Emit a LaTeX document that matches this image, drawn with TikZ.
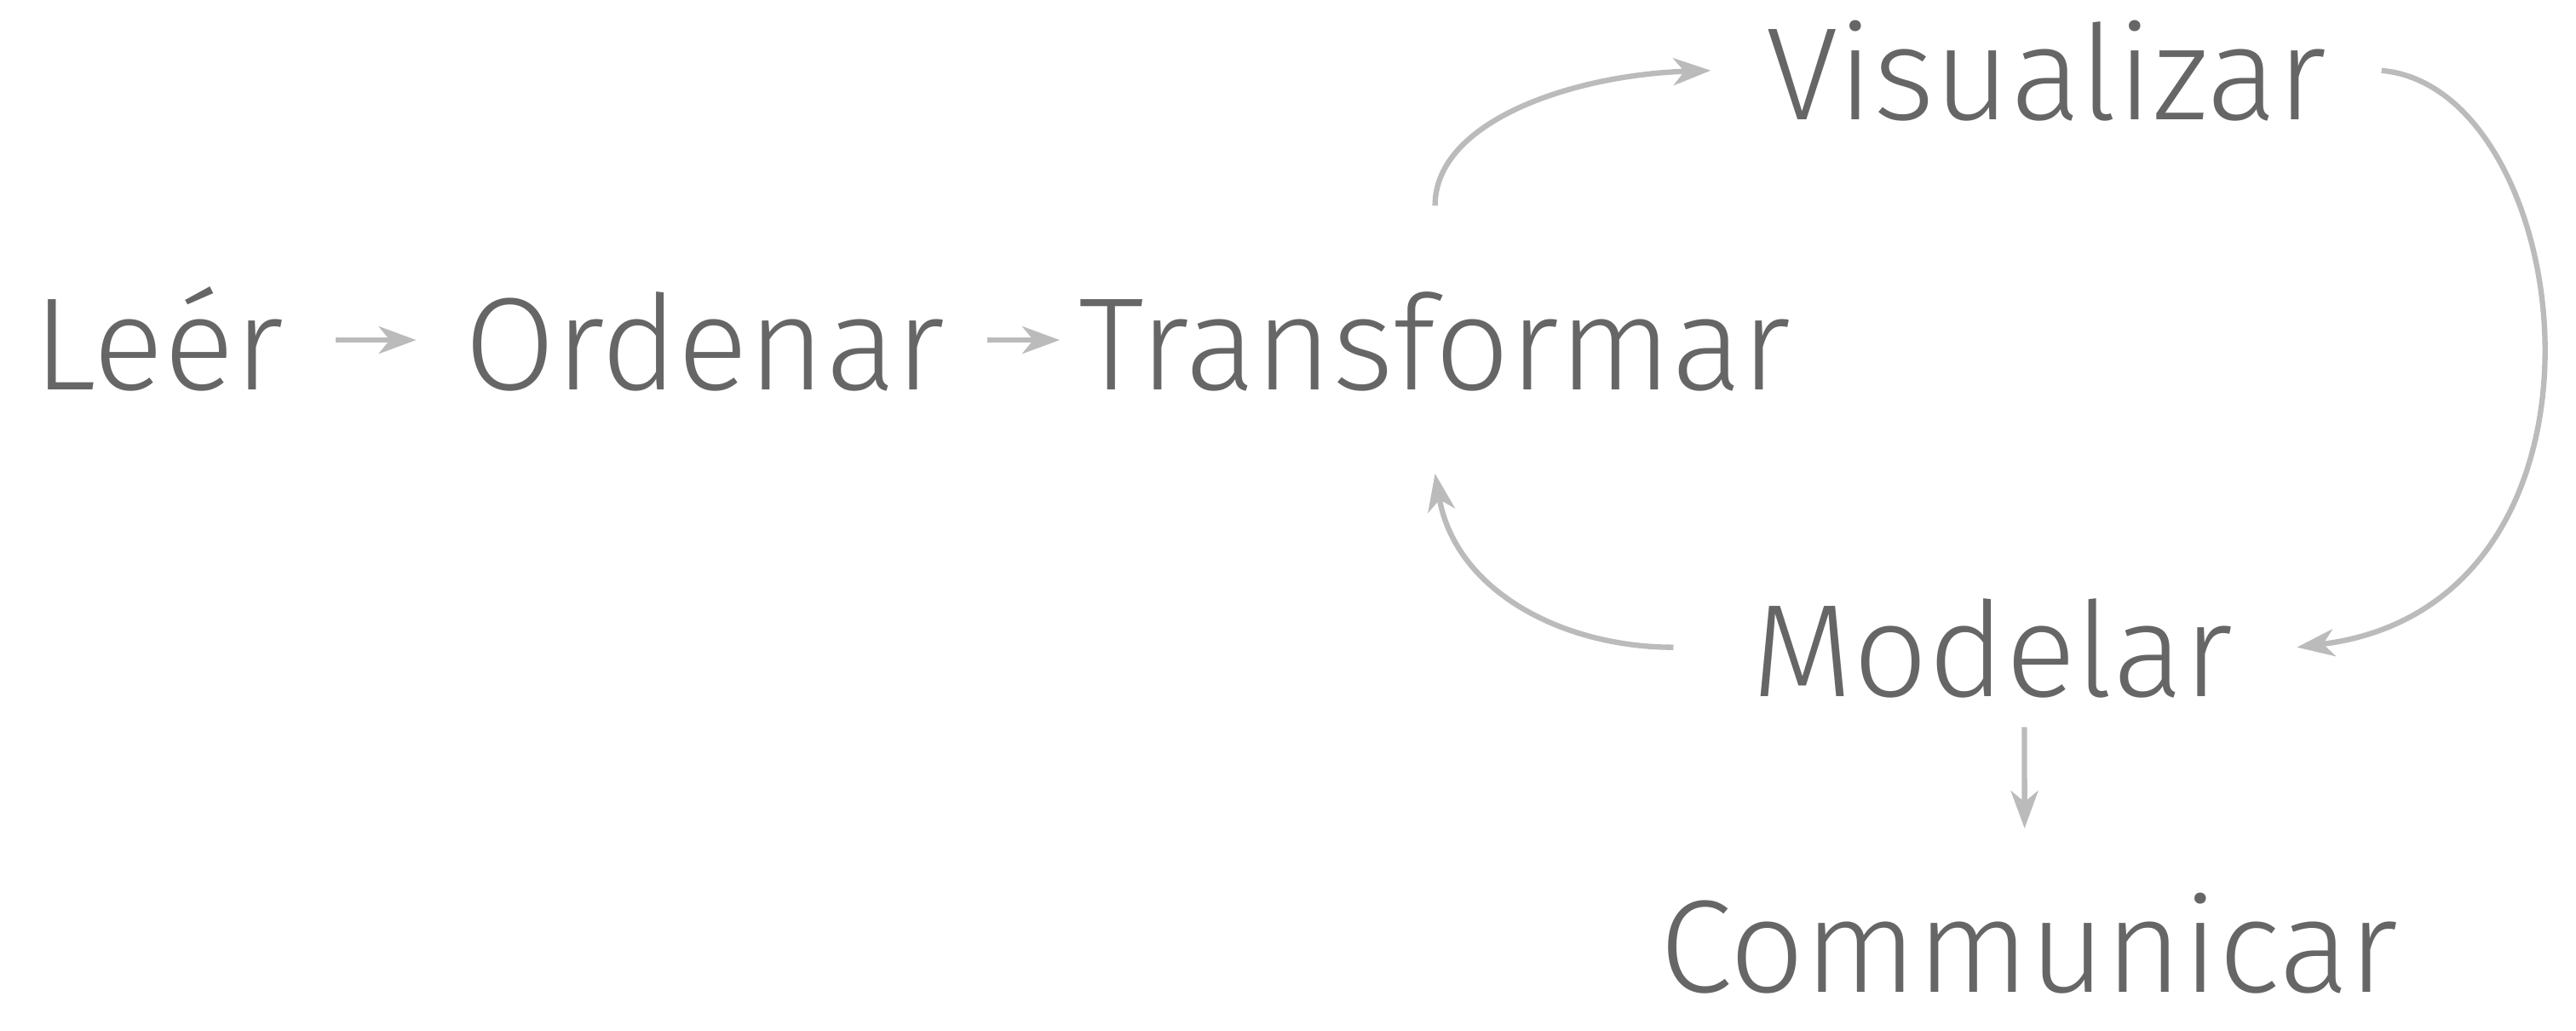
\documentclass[tikz,border=0pt]{standalone}
\usepackage{fontspec}
\setmainfont{Fira Sans}[UprightFont=* Light]
\usetikzlibrary{arrows.meta}
\definecolor{txtgris}{HTML}{666666}
\definecolor{flechagris}{HTML}{BBBBBB}
\tikzset{
	etapa/.style={inner sep=0pt,anchor=base,text=txtgris,font=\fontsize{44}{50}\selectfont,text height=1.16cm,text depth=0pt},
	flecha/.style={flechagris,line width=1.8pt,-{Stealth[length=4.4mm,width=3.2mm,inset=1.3mm]}},
}
\begin{document}
\begin{tikzpicture}
	\useasboundingbox (0,0) rectangle (30.24,12.10);
	\node[etapa] (leer) at (1.861,7.529) {Leér};\node[etapa] (ordenar) at (8.274,7.529) {Ordenar};
	\node[etapa] (transformar) at (16.846,7.529) {Transformar};
	\node[etapa] (visualizar) at (24.02,10.692) {Visualizar};
	\node[etapa] (modelar) at (23.384,3.923) {Modelar};
	\node[etapa] (communicar) at (23.818,0.451) {Communicar};
	\draw[flecha,shorten <=0.61cm,shorten >=0.56cm] (leer.east)--(ordenar.west);
	\draw[flecha,shorten <=0.49cm,shorten >=0.22cm] (ordenar.east)--(transformar.west);
	\draw[flecha] ([yshift=0.99cm]transformar.north) .. controls +(0,1.0) and +(-1.6,-0.05) .. ([xshift=-0.64cm]visualizar.west);
	\draw[flecha] ([xshift=0.64cm]visualizar.east) .. controls +(2.3,-0.2) and +(4.05,0.5) .. ([xshift=0.75cm]modelar.east);
	\draw[flecha] ([xshift=-0.91cm]modelar.west) .. controls +(-1.3,0) and +(0.24,-1.38) .. ([yshift=-0.98cm]transformar.south);
	\draw[flecha,shorten <=0.35cm,shorten >=0.76cm] ([xshift=0.38cm]modelar.south)--([xshift=-0.05cm]communicar.north);
\end{tikzpicture}
\end{document}
